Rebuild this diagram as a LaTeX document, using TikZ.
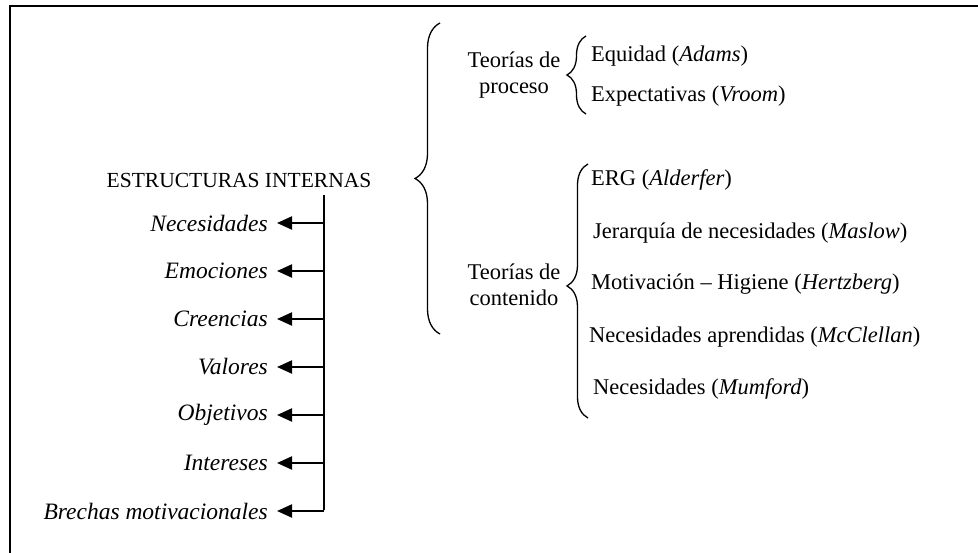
\documentclass[tikz,border=0pt]{standalone}
\usepackage{fontspec}
\setmainfont{Liberation Serif}
\usetikzlibrary{arrows.meta,decorations.pathreplacing}
\tikzset{
  txt/.style={inner sep=0pt, font=\fontsize{22.5}{26}\selectfont},
  lft/.style={txt, anchor=east, font=\fontsize{23.5}{27}\selectfont\itshape},
  rgt/.style={txt, anchor=west},
  two/.style={txt, align=center},
  arr/.style={line width=2pt, -{Triangle[length=15pt,width=13pt]}, shorten >=9pt},
  brc/.style={line width=1.3pt, decorate, decoration={brace, amplitude=#1}},
  frame/.style={line width=2.4pt}
}
\begin{document}
\begin{tikzpicture}[x=1pt,y=-1pt]
\useasboundingbox (0,0) rectangle (978,553);
% frame
\coordinate (fr) at (978,6);
\coordinate (fc) at (10,6);
\coordinate (fb) at (10,553);
\draw[frame] (fr) -- (fc) -- (fb);

% left part
\node[txt, font=\fontsize{21.5}{25}\selectfont] (ei) at (239,180) {ESTRUCTURAS INTERNAS};
\node[lft] (n1) at (268,223) {Necesidades};
\node[lft] (n2) at (268,271) {Emociones};
\node[lft] (n3) at (268,319) {Creencias};
\node[lft] (n4) at (268,367) {Valores};
\node[lft] (n5) at (268,415) {Objetivos};
\node[lft] (n6) at (268,463) {Intereses};
\node[lft] (n7) at (268,511) {Brechas motivacionales};

\coordinate (vt) at (324,195);
\coordinate (j1) at (324,223);
\coordinate (j2) at (324,271);
\coordinate (j3) at (324,319);
\coordinate (j4) at (324,367);
\coordinate (j5) at (324,415);
\coordinate (j6) at (324,463);
\coordinate (j7) at (324,511);
\draw[line width=2pt] (vt) -- ([yshift=1pt]j7);
\foreach \i in {1,...,7} { \draw[arr] (j\i) -- (n\i.east); }

% big brace
\coordinate (bb) at (440,334);
\coordinate (bt) at (440,23);
\draw[brc=25pt] (bb) -- (bt);

% process theories
\node[two] (tp) at (514,75) {Teorías de\\proceso};
\coordinate (s1b) at (586,114);
\coordinate (s1t) at (586,36);
\draw[brc=19pt] (s1b) -- (s1t);
\node[rgt] (eq) at (591,56) {Equidad (\textit{Adams})};
\node[rgt] (ex) at (591,96) {Expectativas (\textit{Vroom})};

% content theories
\node[two] (tc) at (514,285) {Teorías de\\contenido};
\coordinate (s2b) at (588,418);
\coordinate (s2t) at (588,164);
\draw[line width=1.3pt, decorate, decoration={brace, amplitude=21pt, aspect=0.52}] (s2b) -- (s2t);
\node[rgt] (c1) at (591,180) {ERG (\textit{Alderfer})};
\node[rgt] (c2) at (593,233) {Jerarquía de necesidades (\textit{Maslow})};
\node[rgt] (c3) at (591,284) {Motivación – Higiene (\textit{Hertzberg})};
\node[rgt] (c4) at (589,337) {Necesidades aprendidas (\textit{McClellan})};
\node[rgt] (c5) at (593,389) {Necesidades (\textit{Mumford})};
\end{tikzpicture}
\end{document}
